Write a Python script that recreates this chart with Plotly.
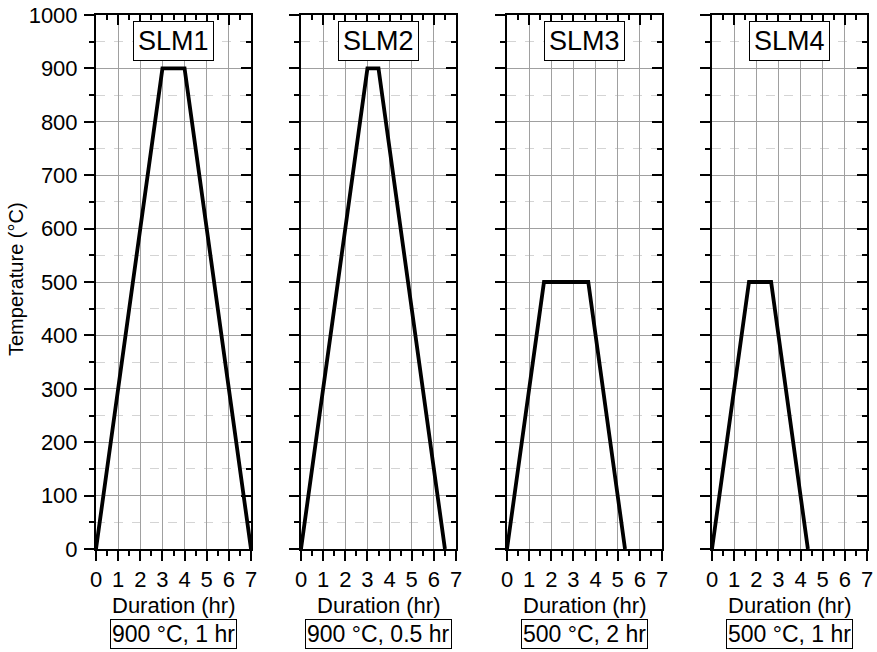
import plotly.graph_objects as go

# ---- data ----
panel_names = ["SLM1", "SLM2", "SLM3", "SLM4"]
conditions = ["900 °C, 1 hr", "900 °C, 0.5 hr", "500 °C, 2 hr", "500 °C, 1 hr"]
slm1_t = [0, 3, 4, 7]
slm1_T = [0, 900, 900, 0]
slm2_t = [0, 3, 3.5, 6.5]
slm2_T = [0, 900, 900, 0]
slm3_t = [0, 1.67, 3.67, 5.33]
slm3_T = [0, 500, 500, 0]
slm4_t = [0, 1.67, 2.67, 4.33]
slm4_T = [0, 500, 500, 0]
series_t = [slm1_t, slm2_t, slm3_t, slm4_t]
series_T = [slm1_T, slm2_T, slm3_T, slm4_T]
x_ticks = [0, 1, 2, 3, 4, 5, 6, 7]
y_ticks = [0, 100, 200, 300, 400, 500, 600, 700, 800, 900, 1000]

W, H = 877, 652
FONT = "Liberation Sans, Arial, sans-serif"
px_left = [96, 301, 507, 712]
px_w = 155
py_top, py_bot = 15, 549

fig = go.Figure()
layout = dict(
    width=W, height=H, margin=dict(l=0, r=0, t=0, b=0, pad=0, autoexpand=False),
    paper_bgcolor="white", plot_bgcolor="white", showlegend=False,
    font=dict(family=FONT, color="black", size=21),
)
ydom = [1 - py_bot / H, 1 - py_top / H]
annotations = []
for i in range(4):
    n = i + 1
    m = i + 5
    xdom = [px_left[i] / W, (px_left[i] + px_w) / W]
    sfx = "" if n == 1 else str(n)
    msfx = str(m)
    fig.add_trace(go.Scatter(x=series_t[i], y=series_T[i], mode="lines",
                             line=dict(color="black", width=3.8),
                             xaxis="x" + sfx, yaxis="y" + sfx, hoverinfo="x+y"))
    fig.add_trace(go.Scatter(x=series_t[i], y=series_T[i], mode="lines",
                             line=dict(color="rgba(0,0,0,0)", width=0),
                             xaxis="x" + msfx, yaxis="y" + msfx, hoverinfo="skip"))
    layout["xaxis" + sfx] = dict(
        domain=xdom, anchor="y" + sfx, range=[0, 7], tickvals=x_ticks,
        ticks="outside", ticklen=10, tickwidth=2, tickcolor="black",
        showline=True, linewidth=2, linecolor="black", automargin=False,
        showgrid=True, gridcolor="#a0a0a0", gridwidth=1, zeroline=False,
        minor=dict(dtick=0.5, ticks="outside", ticklen=5, tickwidth=2,
                   tickcolor="black", showgrid=False),
        tickfont=dict(size=22), ticklabelstandoff=0,
    )
    layout["yaxis" + sfx] = dict(
        domain=ydom, anchor="x" + sfx, range=[0, 1000], tickvals=y_ticks,
        ticks="outside", ticklen=10, tickwidth=2, tickcolor="black",
        showline=True, linewidth=2, linecolor="black", automargin=False,
        showgrid=True, gridcolor="#a0a0a0", gridwidth=1, zeroline=False,
        showticklabels=(n == 1),
        minor=dict(dtick=50, ticks="outside", ticklen=5, tickwidth=2,
                   tickcolor="black", showgrid=True, gridcolor="#d4d4d4",
                   griddash="dash", gridwidth=1),
        tickfont=dict(size=22), ticklabelstandoff=2,
    )
    layout["xaxis" + msfx] = dict(
        overlaying="x" + sfx, anchor="y" + msfx, side="top", range=[0, 7],
        tickvals=x_ticks, ticks="inside", ticklen=10, tickwidth=2, tickcolor="black",
        showline=True, linewidth=2, linecolor="black", showgrid=False,
        zeroline=False, showticklabels=False, automargin=False,
        minor=dict(dtick=0.5, ticks="inside", ticklen=5, tickwidth=2,
                   tickcolor="black", showgrid=False),
    )
    layout["yaxis" + msfx] = dict(
        overlaying="y" + sfx, anchor="x" + msfx, side="right", range=[0, 1000],
        tickvals=y_ticks, ticks="inside", ticklen=10, tickwidth=2, tickcolor="black",
        showline=True, linewidth=2, linecolor="black", showgrid=False,
        zeroline=False, showticklabels=False, automargin=False,
        minor=dict(dtick=50, ticks="inside", ticklen=5, tickwidth=2,
                   tickcolor="black", showgrid=False),
    )
    cx = (px_left[i] + px_w / 2) / W
    annotations.append(dict(
        text=panel_names[i], xref="paper", yref="paper", x=cx, y=1 - 41 / H,
        xanchor="center", yanchor="middle", showarrow=False,
        font=dict(size=27), bgcolor="white", bordercolor="black", borderwidth=1,
        borderpad=4))
    annotations.append(dict(
        text="Duration (hr)", xref="paper", yref="paper", x=cx, y=1 - 605 / H,
        xanchor="center", yanchor="middle", showarrow=False, font=dict(size=22)))
    annotations.append(dict(
        text=conditions[i], xref="paper", yref="paper", x=cx, y=1 - 634 / H,
        xanchor="center", yanchor="middle", showarrow=False,
        font=dict(size=23), bgcolor="white", bordercolor="black", borderwidth=1,
        borderpad=1))

annotations.append(dict(
    text="Temperature (°C)", xref="paper", yref="paper", x=16 / W,
    y=1 - 279 / H, textangle=-90, xanchor="center", yanchor="middle",
    showarrow=False, font=dict(size=20)))
layout["annotations"] = annotations
fig.update_layout(**layout)
fig.write_html("out.html")
